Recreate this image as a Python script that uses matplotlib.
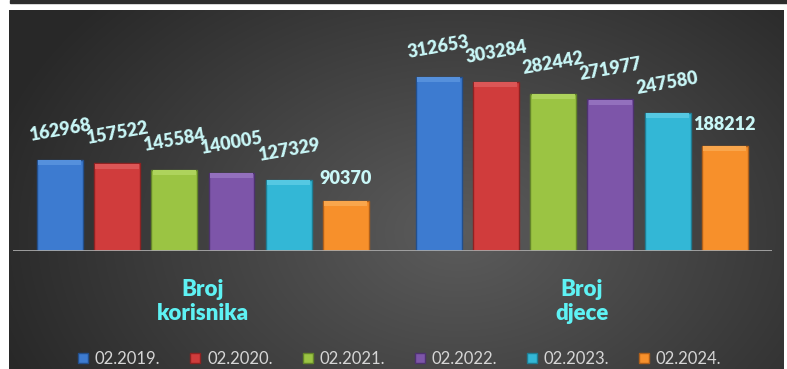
import numpy as np
import matplotlib.pyplot as plt
from matplotlib.patches import Patch, Rectangle
from matplotlib import transforms

# data
categories = ['Broj\nkorisnika', 'Broj\ndjece']
periods = ['02.2019.', '02.2020.', '02.2021.', '02.2022.', '02.2023.', '02.2024.']
korisnici = [162968, 157522, 145584, 140005, 127329, 90370]
djeca = [312653, 303284, 282442, 271977, 247580, 188212]

colors = ['#3d7bd0', '#d03c3c', '#9bc443', '#7d55a9', '#33b7d6', '#f7902b']
edges = ['#234f8c', '#8e2222', '#64852a', '#4e3270', '#1f7d93', '#b0601a']
caps = ['#5590dc', '#dc5656', '#aed35c', '#9370bd', '#55c8e2', '#f9a64c']

plt.rcParams['font.family'] = ['Lato', 'DejaVu Sans']

fig = plt.figure(figsize=(7.87, 3.69), dpi=100)
fig.patch.set_facecolor('white')

# dark gradient panel
bg = fig.add_axes([9 / 787, 0, 775 / 787, 359 / 369])
yy, xx = np.mgrid[0:1:180j, 0:1:390j]
d = np.sqrt(((xx - 0.58) / 0.62) ** 2 + ((yy - 0.62) / 0.95) ** 2)
shade = 0.16 + 0.2 * np.clip(1 - d, 0, 1)
bg.imshow(np.dstack([shade, shade, shade]), aspect='auto', interpolation='bilinear')
bg.axis('off')

# thin dark strip at top
fig.add_artist(Rectangle((10 / 787, 366 / 369), 777 / 787, 3 / 369,
                         transform=fig.transFigure, color='#2d2d2d'))

ax = fig.add_axes([13 / 787, 1 - 251 / 369, 759 / 787, 195 / 369])
ax.set_facecolor('none')
ax.set_xlim(-0.501, 1.502)
ax.set_ylim(0, 350000)
ax.axis('off')

x = np.arange(len(categories))
step = 0.151
width = 0.121
for i in range(len(periods)):
    vals = [korisnici[i], djeca[i]]
    pos = x + (i - 2.5) * step
    ax.bar(pos, vals, width, color=colors[i], edgecolor=edges[i], linewidth=1, zorder=2)
    # subtle top bevel
    ax.bar(pos, [9000, 9000], width * 0.94, bottom=[v - 9500 for v in vals],
           color=caps[i], linewidth=0, zorder=3)
    for p, v in zip(pos, vals):
        last = i == len(periods) - 1
        ax.annotate(str(v), (p, v), xytext=(0, 22 if last else 30),
                    textcoords='offset pixels', ha='center', va='center',
                    rotation=0 if last else 10, fontsize=13, fontweight='heavy',
                    color='#c9f7f7', zorder=4)

ax.axhline(0, color='#a8a8a8', lw=2, zorder=5)

trans = transforms.blended_transform_factory(ax.transData, ax.transAxes)
for xi, cat in zip(x, categories):
    ax.text(xi, -0.258, cat, transform=trans, ha='center', va='center',
            fontsize=16, fontweight='heavy', color='#5ef2f4', linespacing=1.15)

handles = [Patch(facecolor=c, edgecolor=e) for c, e in zip(colors, edges)]
fig.legend(handles, periods, loc='center', bbox_to_anchor=(0.508, 1 - 359 / 369),
           ncol=6, frameon=False, fontsize=12, labelcolor='#d6d6d6',
           handlelength=0.6, handleheight=0.6, handletextpad=0.4, columnspacing=1.8)

fig.savefig('out.png', dpi=100, facecolor='white')
